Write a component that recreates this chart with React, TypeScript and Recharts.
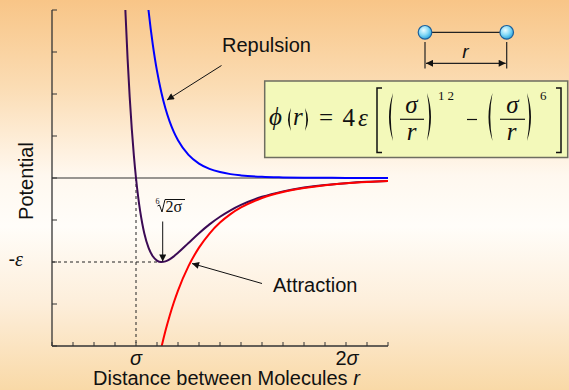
import { LineChart, Line, XAxis, YAxis, ReferenceLine } from "recharts";

// distances in units of sigma, potentials in units of epsilon
const ljDistance = [0.93, 0.94, 0.95, 0.96, 0.97, 0.98, 0.99, 1.0, 1.01, 1.02, 1.03, 1.04, 1.06, 1.08, 1.1, 1.12, 1.14, 1.16, 1.18, 1.2, 1.25, 1.3, 1.35, 1.4, 1.45, 1.5, 1.6, 1.7, 1.8, 1.9, 2.0, 2.1, 2.2];
const ljPotential = [3.373, 2.607, 1.961, 1.418, 0.963, 0.582, 0.264, 0, -0.218, -0.398, -0.544, -0.663, -0.832, -0.932, -0.983, -1.0, -0.992, -0.968, -0.933, -0.891, -0.774, -0.657, -0.552, -0.461, -0.384, -0.32, -0.224, -0.159, -0.114, -0.083, -0.062, -0.046, -0.035];

const repulsionDistance = [1.02, 1.04, 1.05, 1.06, 1.07, 1.08, 1.09, 1.1, 1.12, 1.14, 1.16, 1.18, 1.2, 1.25, 1.3, 1.35, 1.4, 1.45, 1.5, 1.6, 1.7, 1.8, 1.9, 2.0, 2.1, 2.2];
const repulsionPotential = [3.154, 2.498, 2.227, 1.988, 1.776, 1.588, 1.422, 1.275, 1.027, 0.83, 0.674, 0.549, 0.449, 0.275, 0.172, 0.109, 0.071, 0.046, 0.031, 0.014, 0.007, 0.003, 0.002, 0.001, 0.0005, 0.0003];

const attractionDistance = [1.11, 1.12, 1.14, 1.16, 1.18, 1.2, 1.25, 1.3, 1.35, 1.4, 1.45, 1.5, 1.6, 1.7, 1.8, 1.9, 2.0, 2.1, 2.2];
const attractionPotential = [-2.139, -2.027, -1.822, -1.642, -1.482, -1.34, -1.049, -0.829, -0.661, -0.531, -0.43, -0.351, -0.238, -0.166, -0.118, -0.085, -0.0625, -0.047, -0.035];

const xTicks = [0.6, 0.7, 0.8, 0.9, 1.0, 1.1, 1.2, 1.3, 1.4, 1.5, 1.6, 1.7, 1.8, 1.9, 2.0, 2.1, 2.2];
const yTicks = [-2, -1.5, -1, -0.5, 0, 0.5, 1, 1.5, 2];

const SIGMA = 1;
const EPSILON = 1;
const R_MIN = 1.1225; // sixth root of 2

const AXIS = "#333";
const SANS = "'Liberation Sans', Arial, sans-serif";
const SERIF = "'Liberation Serif', 'Times New Roman', serif";

const toRows = (xs: number[], ys: number[]) => xs.map((r, i) => ({ r, v: ys[i] }));

const ljData = toRows(ljDistance, ljPotential);
const repulsionData = toRows(repulsionDistance, repulsionPotential);
const attractionData = toRows(attractionDistance, attractionPotential);

const near = (a: number, b: number) => Math.abs(a - b) < 1e-6;

function BottomTick({ x, y, payload }: any) {
  const v = payload.value;
  return (
    <g>
      <line x1={x} y1={y} x2={x} y2={y - 4} stroke={AXIS} strokeWidth={1} />
      {near(v, SIGMA) && (
        <text x={x} y={y + 19} textAnchor="middle" fontSize={20} fontFamily={SANS} fontStyle="italic" fill="#111">
          σ
        </text>
      )}
      {near(v, 2 * SIGMA) && (
        <text x={x + 1} y={y + 19} textAnchor="middle" fontSize={20} fontFamily={SANS} fill="#111">
          2<tspan fontStyle="italic">σ</tspan>
        </text>
      )}
    </g>
  );
}

function TopTick({ x, y }: any) {
  return <line x1={x} y1={y} x2={x} y2={y + 4} stroke={AXIS} strokeWidth={1} />;
}

function LeftTick({ x, y, payload }: any) {
  return (
    <g>
      <line x1={x} y1={y} x2={x + 5} y2={y} stroke={AXIS} strokeWidth={1} />
      {near(payload.value, -EPSILON) && (
        <text x={x - 29} y={y + 4} textAnchor="end" fontSize={20} fill="#111">
          <tspan fontFamily={SANS}>-</tspan>
          <tspan fontFamily={SERIF} fontStyle="italic">ε</tspan>
        </text>
      )}
    </g>
  );
}

function RightTick({ x, y }: any) {
  return <line x1={x} y1={y} x2={x - 5} y2={y} stroke={AXIS} strokeWidth={1} />;
}

// crescent-shaped parenthesis; dir = -1 for "(", +1 for ")"
function Paren({ x, top, bottom, dir, bulge = 8 }: { x: number; top: number; bottom: number; dir: number; bulge?: number }) {
  const mid = (top + bottom) / 2;
  const d = `M ${x} ${top} Q ${x + dir * bulge} ${mid} ${x} ${bottom} Q ${x + dir * (bulge - 3.5)} ${mid} ${x} ${top} Z`;
  return <path d={d} fill="#111" />;
}

function Annotations() {
  return (
    <svg width={569} height={390} style={{ position: "absolute", left: 0, top: 0, pointerEvents: "none" }}>
      <defs>
        <marker id="ah" viewBox="0 0 10 10" refX={10} refY={5} markerWidth={9} markerHeight={7} markerUnits="userSpaceOnUse" orient="auto-start-reverse">
          <path d="M0,0 L10,5 L0,10 z" fill="#111" />
        </marker>
        <radialGradient id="ball" cx="40%" cy="35%" r="65%">
          <stop offset="0%" stopColor="#eafcff" />
          <stop offset="55%" stopColor="#86daf7" />
          <stop offset="100%" stopColor="#2ba6de" />
        </radialGradient>
      </defs>

      {/* axis titles */}
      <text x={33} y={181} transform="rotate(-90 33 181)" textAnchor="middle" fontSize={20} fontFamily={SANS} fill="#111">
        Potential
      </text>
      <text x={93} y={385} fontSize={20} fontFamily={SANS} fill="#111">
        Distance between Molecules <tspan fontStyle="italic">r</tspan>
      </text>

      {/* curve labels */}
      <text x={222} y={52} fontSize={20} fontFamily={SANS} fill="#111">Repulsion</text>
      <line x1={221.5} y1={65.5} x2={167} y2={100} stroke="#111" strokeWidth={1} markerEnd="url(#ah)" />
      <text x={273} y={292} fontSize={20} fontFamily={SANS} fill="#111">Attraction</text>
      <line x1={262} y1={283.5} x2={192} y2={263.5} stroke="#111" strokeWidth={1} markerEnd="url(#ah)" />

      {/* position of the minimum */}
      <text x={155.5} y={204} fontSize={8} fontFamily={SERIF} fill="#111">6</text>
      <path d="M 157.5 206 L 159.5 205 L 162 212 L 165 199.5 L 185 199.5" fill="none" stroke="#111" strokeWidth={1} />
      <text x={165.5} y={211.5} fontSize={16} fontFamily={SERIF} fill="#111">2σ</text>
      <line x1={162.7} y1={221.5} x2={162.7} y2={261.5} stroke="#111" strokeWidth={1} markerEnd="url(#ah)" />

      {/* two molecules separated by r */}
      <line x1={425} y1={32.3} x2={506.7} y2={32.3} stroke="#222" strokeWidth={1.2} />
      <circle cx={425} cy={32.3} r={6.8} fill="url(#ball)" stroke="#1d5f9b" strokeWidth={1.2} />
      <circle cx={506.7} cy={32.3} r={6.8} fill="url(#ball)" stroke="#1d5f9b" strokeWidth={1.2} />
      <line x1={425} y1={42} x2={425} y2={68.5} stroke="#222" strokeWidth={1.2} />
      <line x1={506.7} y1={42} x2={506.7} y2={68.5} stroke="#222" strokeWidth={1.2} />
      <line x1={426} y1={63.3} x2={505.7} y2={63.3} stroke="#222" strokeWidth={1.2} markerStart="url(#ah)" markerEnd="url(#ah)" />
      <text x={465.5} y={58} textAnchor="middle" fontSize={19} fontFamily={SANS} fontStyle="italic" fill="#111">r</text>

      {/* Lennard-Jones formula */}
      <rect x={264.7} y={81} width={303} height={76.5} fill="#f3f9ba" stroke="#6e6e60" strokeWidth={1.5} />
      <g fontFamily={SERIF} fill="#111" fontSize={25}>
        <text x={269} y={125} fontStyle="italic">ϕ</text>
        <text x={293} y={125} fontStyle="italic">r</text>
        <text x={319} y={126}>=</text>
        <text x={342.5} y={126}>4</text>
        <text x={358} y={126} fontStyle="italic">ε</text>
        <text x={438} y={99.5} fontSize={13} letterSpacing={3}>12</text>
        <text x={540} y={99.5} fontSize={13}>6</text>
        <text x={411.5} y={113} textAnchor="middle" fontStyle="italic">σ</text>
        <text x={411.5} y={140} textAnchor="middle" fontStyle="italic">r</text>
        <text x={512.5} y={113} textAnchor="middle" fontStyle="italic">σ</text>
        <text x={511.5} y={140} textAnchor="middle" fontStyle="italic">r</text>
      </g>
      <Paren x={291} top={108} bottom={131} dir={-1} bulge={6} />
      <Paren x={305} top={108} bottom={131} dir={1} bulge={6} />
      <path d="M 382 88 L 377 88 L 377 152.5 L 382 152.5" fill="none" stroke="#111" strokeWidth={1.5} />
      <path d="M 556 88 L 561 88 L 561 152.5 L 556 152.5" fill="none" stroke="#111" strokeWidth={1.5} />
      <Paren x={393} top={93} bottom={141} dir={-1} />
      <Paren x={427} top={93} bottom={141} dir={1} />
      <Paren x={492.5} top={93} bottom={141} dir={-1} />
      <Paren x={527} top={93} bottom={141} dir={1} />
      <line x1={400} y1={119.3} x2={424} y2={119.3} stroke="#111" strokeWidth={1.2} />
      <line x1={500} y1={119.3} x2={525} y2={119.3} stroke="#111" strokeWidth={1.2} />
      <line x1={467} y1={119.5} x2={477} y2={119.5} stroke="#111" strokeWidth={1.2} />
    </svg>
  );
}

export default function App() {
  return (
    <div
      style={{
        position: "absolute",
        left: 0,
        top: 0,
        width: 569,
        height: 390,
        background: "linear-gradient(to bottom, #f8c587 0%, #fbdcb3 22%, #fff8ef 45%, #fffdf9 58%, #fdeeda 78%, #f9d9a7 100%)",
      }}
    >
      <LineChart width={569} height={390} margin={{ top: 10, right: 181, bottom: 0, left: 0 }}>
        <XAxis
          xAxisId="b"
          type="number"
          dataKey="r"
          domain={[0.6, 2.2]}
          ticks={xTicks}
          interval={0}
          allowDataOverflow
          height={44}
          tickSize={0}
          tickMargin={0}
          tickLine={false}
          tick={BottomTick}
          axisLine={{ stroke: AXIS, strokeWidth: 1.3 }}
        />
        <XAxis
          xAxisId="t"
          orientation="top"
          type="number"
          dataKey="r"
          domain={[0.6, 2.2]}
          ticks={xTicks}
          interval={0}
          allowDataOverflow
          height={0}
          tickSize={0}
          tickMargin={0}
          tickLine={false}
          tick={TopTick}
          axisLine={{ stroke: AXIS, strokeWidth: 1.3 }}
        />
        <YAxis
          yAxisId="l"
          type="number"
          domain={[-2, 2]}
          ticks={yTicks}
          interval={0}
          allowDataOverflow
          width={52}
          tickSize={0}
          tickMargin={0}
          tickLine={false}
          tick={LeftTick}
          axisLine={{ stroke: AXIS, strokeWidth: 1.3 }}
        />
        <YAxis
          yAxisId="rt"
          orientation="right"
          type="number"
          domain={[-2, 2]}
          ticks={yTicks}
          interval={0}
          allowDataOverflow
          width={0}
          tickSize={0}
          tickMargin={0}
          tickLine={false}
          tick={RightTick}
          axisLine={{ stroke: AXIS, strokeWidth: 1.3 }}
        />

        <ReferenceLine xAxisId="b" yAxisId="l" y={0} stroke={AXIS} strokeWidth={1.2} />
        <ReferenceLine
          xAxisId="b"
          yAxisId="l"
          segment={[{ x: SIGMA, y: 0 }, { x: SIGMA, y: -2 }]}
          stroke="#222"
          strokeDasharray="3 3"
          strokeWidth={1}
        />
        <ReferenceLine
          xAxisId="b"
          yAxisId="l"
          segment={[{ x: 0.6, y: -EPSILON }, { x: R_MIN, y: -EPSILON }]}
          stroke="#222"
          strokeDasharray="3 3"
          strokeWidth={1}
        />

        <Line xAxisId="b" yAxisId="l" data={ljData} dataKey="v" type="monotone" stroke="#3c0b55" strokeWidth={2} dot={false} isAnimationActive={false} />
        <Line xAxisId="b" yAxisId="l" data={repulsionData} dataKey="v" type="monotone" stroke="#0000ff" strokeWidth={2} dot={false} isAnimationActive={false} />
        <Line xAxisId="b" yAxisId="l" data={attractionData} dataKey="v" type="monotone" stroke="#ff0000" strokeWidth={2} dot={false} isAnimationActive={false} />

        {/* keeps the mirrored top/right axes attached to a series */}
        <Line xAxisId="t" yAxisId="rt" data={ljData} dataKey="v" stroke="none" dot={false} activeDot={false} isAnimationActive={false} />
      </LineChart>
      <Annotations />
    </div>
  );
}
